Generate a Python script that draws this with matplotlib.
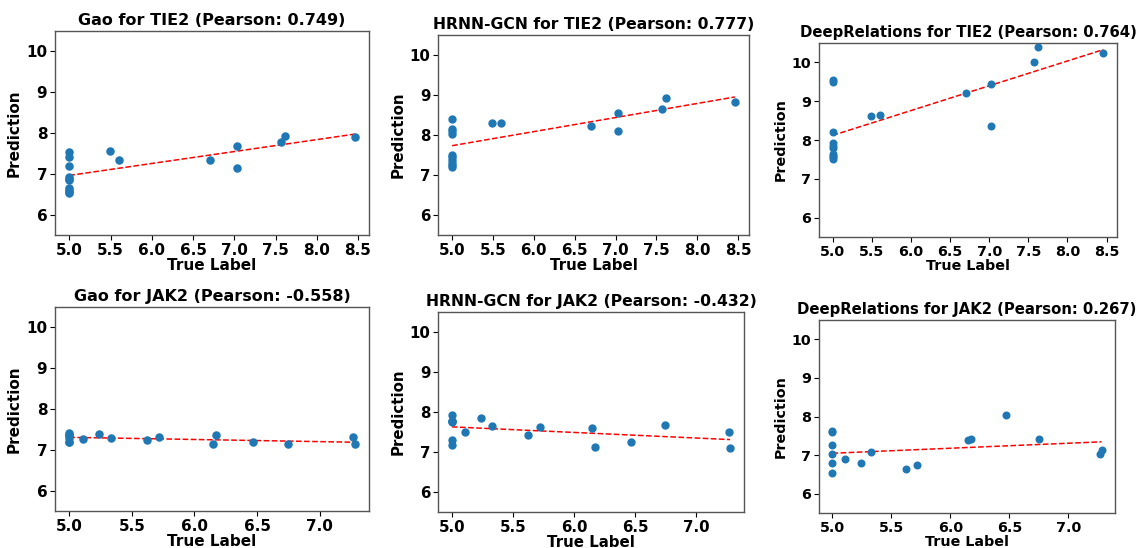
import numpy as np
import matplotlib
matplotlib.use("Agg")
import matplotlib.pyplot as plt
from matplotlib.ticker import MultipleLocator, FormatStrFormatter

plt.rcParams["font.family"] = "DejaVu Sans"
plt.rcParams["font.weight"] = "bold"

# TIE2 test set (true labels)
tie2_true = [5.0] * 10 + [5.49, 5.6, 6.7, 7.03, 7.03, 7.57, 7.62, 8.46]
gao_tie2 = [7.54, 7.41, 7.20, 6.93, 6.88, 6.84, 6.65, 6.60, 6.56, 6.53,
            7.56, 7.35, 7.34, 7.69, 7.15, 7.77, 7.93, 7.89]
hrnn_tie2 = [8.40, 8.16, 8.09, 8.02, 7.51, 7.45, 7.38, 7.31, 7.26, 7.21,
             8.29, 8.31, 8.23, 8.55, 8.09, 8.64, 8.92, 8.83]
deep_tie2 = [9.55, 9.50, 8.20, 7.92, 7.85, 7.80, 7.65, 7.60, 7.55, 7.50,
             8.62, 8.65, 9.20, 9.45, 8.35, 10.0, 10.4, 10.25]

# JAK2 test set (true labels)
jak2_true = [5.0] * 6 + [5.11, 5.24, 5.33, 5.62, 5.72, 6.15, 6.17, 6.47, 6.75, 7.27, 7.28]
gao_jak2 = [7.42, 7.36, 7.28, 7.20, 7.18, 7.36,
            7.27, 7.39, 7.29, 7.23, 7.31, 7.15, 7.37, 7.18, 7.13, 7.31, 7.13]
hrnn_jak2 = [7.93, 7.77, 7.74, 7.31, 7.17, 7.77,
             7.51, 7.86, 7.65, 7.43, 7.62, 7.60, 7.12, 7.26, 7.67, 7.50, 7.09]
deep_jak2 = [7.62, 7.60, 7.26, 7.02, 6.79, 6.53,
             6.89, 6.79, 7.09, 6.65, 6.74, 7.39, 7.42, 8.03, 7.42, 7.02, 7.13]

models = ["Gao", "HRNN-GCN", "DeepRelations"]
pearsons = {"TIE2": ["0.749", "0.777", "0.764"], "JAK2": ["-0.558", "-0.432", "0.267"]}
panels = [
    ("TIE2", tie2_true, [gao_tie2, hrnn_tie2, deep_tie2]),
    ("JAK2", jak2_true, [gao_jak2, hrnn_jak2, deep_jak2]),
]

# axes boxes in pixels: (left, top, right, bottom)
boxes = [
    [(55, 31, 369, 235), (438, 35, 749, 235), (819, 43, 1117, 237)],
    [(55, 307, 369, 511), (438, 312, 744, 512), (819, 320, 1115, 513)],
]
# the panels were pasted together at slightly different scales
scale = [1.0, 0.98, 0.93]

W, H = 1143, 548
fig = plt.figure(figsize=(W / 100, H / 100), dpi=100)

for r, (target, xs, preds) in enumerate(panels):
    for c, model in enumerate(models):
        f = scale[c]
        l, t, rr, b = boxes[r][c]
        ax = fig.add_axes([l / W, 1 - b / H, (rr - l) / W, (b - t) / H])
        x = np.array(xs)
        y = np.array(preds[c])
        ax.scatter(x, y, s=26 * f * f, color="#1f77b4", zorder=3)
        k, m = np.polyfit(x, y, 1)
        xl = np.array([x.min(), x.max()])
        ax.plot(xl, k * xl + m, "r--", linewidth=1.1)
        ax.set_ylim(5.5, 10.5)
        ax.set_yticks([6, 7, 8, 9, 10])
        ax.xaxis.set_major_locator(MultipleLocator(0.5))
        ax.xaxis.set_major_formatter(FormatStrFormatter("%.1f"))
        ax.set_title(f"{model} for {target} (Pearson: {pearsons[target][c]})",
                     fontsize=11.5 * f, fontweight="bold", pad=4)
        ax.set_xlabel("True Label", fontsize=11 * f, fontweight="bold", labelpad=0)
        ax.set_ylabel("Prediction", fontsize=11 * f, fontweight="bold", labelpad=3)
        ax.tick_params(labelsize=11 * f, pad=2)
        for lab in ax.get_xticklabels() + ax.get_yticklabels():
            lab.set_fontweight("bold")
        for sp in ax.spines.values():
            sp.set_color("#555555")
            sp.set_linewidth(1.0)

fig.savefig("out.png", dpi=100)
